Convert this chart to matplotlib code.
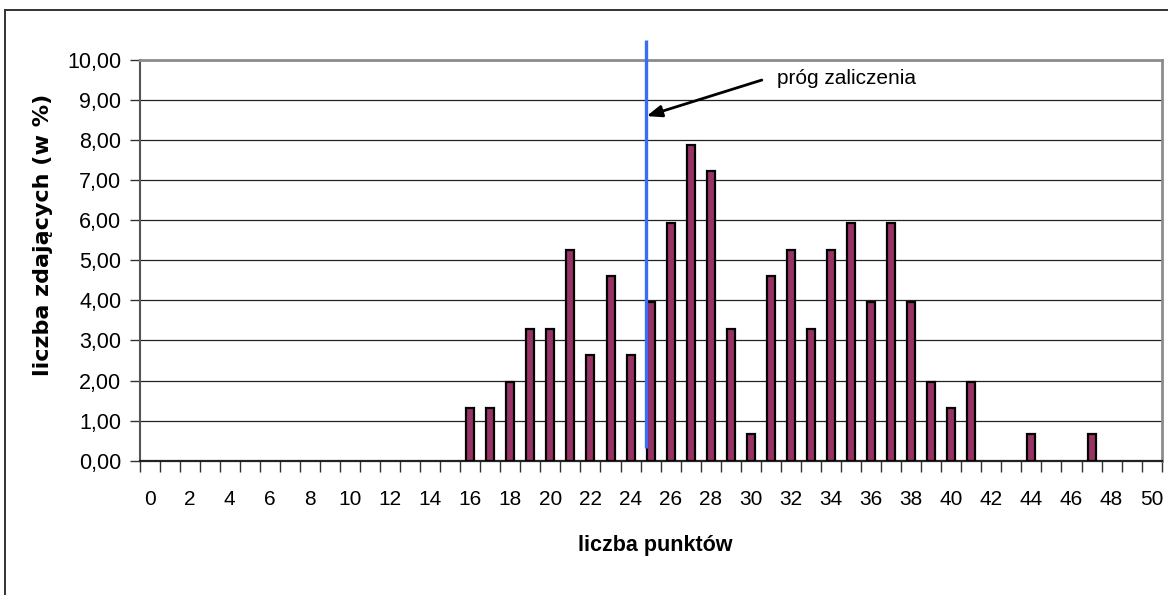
import matplotlib
matplotlib.use("Agg")
import matplotlib.pyplot as plt
from matplotlib.lines import Line2D
import numpy as np

plt.rcParams['font.family'] = ['Liberation Sans', 'DejaVu Sans']

# ---- data ----
points = list(range(0, 51))
percent = [0, 0, 0, 0, 0, 0, 0, 0, 0, 0,
           0, 0, 0, 0, 0, 0, 1.32, 1.32, 1.97, 3.29,
           3.29, 5.26, 2.63, 4.61, 2.63, 3.95, 5.92, 7.89, 7.24, 3.29,
           0.66, 4.61, 5.26, 3.29, 5.26, 5.92, 3.95, 5.92, 3.95, 1.97,
           1.32, 1.97, 0, 0, 0.66, 0, 0, 0.66, 0, 0,
           0]
y_ticks = [0, 1, 2, 3, 4, 5, 6, 7, 8, 9, 10]
y_tick_labels = ["0,00", "1,00", "2,00", "3,00", "4,00", "5,00",
                 "6,00", "7,00", "8,00", "9,00", "10,00"]
x_tick_vals = list(range(0, 51, 2))
threshold = 24.75
annotation_text = "próg zaliczenia"
x_title = "liczba punktów"
y_title = "liczba zdających (w %)"

W, H = 1168, 595
fig = plt.figure(figsize=(W / 100, H / 100), dpi=100)
ax = fig.add_axes([139.5 / W, 1 - 460.7 / H, (1161.7 - 139.5) / W, (460.7 - 60) / H])

px = [p for p, v in zip(points, percent) if v > 0]
pv = [v for v in percent if v > 0]
ax.bar(px, pv, width=0.4, color="#993366", edgecolor="black",
       linewidth=1.6, zorder=3)

ax.set_xlim(-0.5, 50.5)
ax.set_ylim(0, 10)

ax.set_yticks(y_ticks)
ax.set_yticklabels(y_tick_labels, fontsize=15.5)
ax.yaxis.grid(True, color="#222222", linewidth=0.9, zorder=0)
ax.tick_params(axis="y", length=7, width=1, direction="out", pad=6,
               color="#333333")

ax.set_xticks(x_tick_vals)
ax.set_xticklabels([str(v) for v in x_tick_vals], fontsize=15)
ax.set_xticks(np.arange(-0.5, 51, 1), minor=True)
ax.tick_params(axis="x", which="major", length=0, pad=21)
ax.tick_params(axis="x", which="minor", length=8, width=1, direction="out",
               color="#333333")

for s in ["top", "right"]:
    ax.spines[s].set_color("#8c8c8c")
    ax.spines[s].set_linewidth(2)
ax.spines["left"].set_color("#555555")
ax.spines["left"].set_linewidth(1.5)
ax.spines["bottom"].set_color("#222222")
ax.spines["bottom"].set_linewidth(1.6)

# threshold line
ax.plot([threshold, threshold], [0.32, 10.5], color="#3a6cf4", linewidth=2.4,
        zorder=4, clip_on=False, solid_capstyle="butt")

ax.annotate("", xy=(threshold + 0.05, 8.6), xytext=(30.55, 9.5),
            arrowprops=dict(arrowstyle="-|>,head_length=0.9,head_width=0.35",
                            color="black", lw=2.0, shrinkA=0, shrinkB=0),
            zorder=5, annotation_clip=False)
ax.text(31.3, 9.55, annotation_text, fontsize=15, va="center", ha="left",
        zorder=5)

fig.text(43 / W, 1 - 235 / H, y_title, rotation=90, fontsize=16,
         fontweight="bold", ha="center", va="center",
         family=['DejaVu Sans'])
fig.text(655 / W, 1 - 545 / H, x_title, fontsize=15.5, fontweight="bold",
         ha="center", va="center")

# outer frame (chart area border)
fig.add_artist(Line2D([5 / W, 1.0], [1 - 10 / H, 1 - 10 / H],
                      transform=fig.transFigure, color="#333333", linewidth=1.4))
fig.add_artist(Line2D([5 / W, 5 / W], [1 - 10 / H, 0.0],
                      transform=fig.transFigure, color="#333333", linewidth=1.4))

fig.savefig("out.png", dpi=100, facecolor="white")
